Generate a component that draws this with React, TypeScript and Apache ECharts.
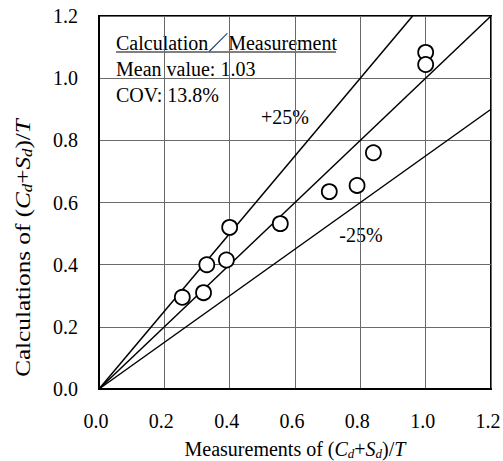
import React, { useEffect, useRef } from "react";
import * as echarts from "echarts";

const measured = [0.255, 0.32, 0.33, 0.39, 0.4, 0.555, 0.705, 0.79, 0.84, 1.0, 1.0];
const calculated = [0.295, 0.31, 0.4, 0.415, 0.52, 0.532, 0.635, 0.655, 0.76, 1.083, 1.044];
const equalLine = [[0, 0], [1.2, 1.2]];
const plusLine = [[0, 0], [0.96, 1.2]];
const minusLine = [[0, 0], [1.2, 0.9]];
const axisMin = 0;
const axisMax = 1.2;
const axisStep = 0.2;
const summaryTitle = "Calculation／Measurement";
const summaryMean = "Mean value: 1.03";
const summaryCov = "COV: 13.8%";
const plusLabel = "+25%";
const minusLabel = "-25%";

const FONT = "'Liberation Serif', 'Times New Roman', 'Noto Sans CJK JP', serif";

const richStyles = (size: number) => ({
  n: { fontFamily: FONT, fontSize: size, color: "#000", lineHeight: size + 2 },
  i: { fontFamily: FONT, fontSize: size, fontStyle: "italic", color: "#000", lineHeight: size + 2 },
  s: {
    fontFamily: FONT,
    fontSize: Math.round(size * 0.65),
    fontStyle: "italic",
    color: "#000",
    lineHeight: 8,
    verticalAlign: "bottom",
  },
});

export default function App() {
  const ref = useRef<HTMLDivElement>(null);
  useEffect(() => {
    if (!ref.current) return;
    const chart = echarts.init(ref.current, undefined, { renderer: "svg" });
    const points = measured.map((m, k) => [m, calculated[k]]);
    const lineSeries = (data: number[][]) => ({
      type: "line",
      data,
      symbol: "none",
      silent: true,
      lineStyle: { color: "#000", width: 1.5 },
      z: 2,
    });
    const axisCommon = {
      type: "value",
      min: axisMin,
      max: axisMax,
      interval: axisStep,
      axisLine: { show: true, lineStyle: { color: "#000", width: 2 } },
      axisTick: { show: false },
      splitLine: { show: true, lineStyle: { color: "#6a6a6a", width: 1 } },
    };
    chart.setOption({
      animation: false,
      grid: {
        left: 99,
        right: 12,
        top: 16,
        bottom: 72,
        containLabel: false,
        outerBoundsMode: "none",
        show: true,
        borderColor: "#000",
        borderWidth: 2,
        backgroundColor: "transparent",
      },
      xAxis: {
        ...axisCommon,
        axisLabel: {
          fontFamily: FONT,
          fontSize: 20,
          color: "#000",
          margin: 22,
          padding: [0, 6, 0, 0],
          formatter: (v: number) => v.toFixed(1),
        },
        name: "{n|Measurements of (}{i|C}{s|d}{n|+}{i|S}{s|d}{n|)/}{i|T}",
        nameLocation: "middle",
        nameGap: 49,
        nameTextStyle: { rich: richStyles(20) },
      },
      yAxis: {
        ...axisCommon,
        axisLabel: {
          fontFamily: FONT,
          fontSize: 20,
          color: "#000",
          margin: 21,
          formatter: (v: number) => v.toFixed(1),
        },
      },
      graphic: [
        {
          type: "text",
          x: 23,
          y: 248,
          rotation: Math.PI / 2,
          scaleX: 1.2,
          style: {
            text: "{n|Calculations of (}{i|C}{s|d}{n|+}{i|S}{s|d}{n|)/}{i|T}",
            rich: richStyles(21),
            align: "center",
            verticalAlign: "middle",
          },
        },
        {
          type: "text",
          x: 116,
          y: 43,
          style: { text: summaryTitle, font: `20px ${FONT}`, fill: "#000", verticalAlign: "middle" },
        },
        {
          type: "line",
          shape: { x1: 116, y1: 52, x2: 336, y2: 52 },
          style: { stroke: "#000", lineWidth: 1 },
        },
        {
          type: "text",
          x: 116,
          y: 69,
          style: { text: summaryMean, font: `20px ${FONT}`, fill: "#000", verticalAlign: "middle" },
        },
        {
          type: "text",
          x: 116,
          y: 95,
          style: { text: summaryCov, font: `20px ${FONT}`, fill: "#000", verticalAlign: "middle" },
        },
        {
          type: "text",
          x: 285,
          y: 117,
          style: { text: plusLabel, font: `20px ${FONT}`, fill: "#000", align: "center", verticalAlign: "middle" },
        },
        {
          type: "text",
          x: 361,
          y: 235,
          style: { text: minusLabel, font: `20px ${FONT}`, fill: "#000", align: "center", verticalAlign: "middle" },
        },
      ],
      series: [
        lineSeries(equalLine),
        lineSeries(plusLine),
        lineSeries(minusLine),
        {
          type: "scatter",
          data: points,
          symbol: "circle",
          symbolSize: 15,
          itemStyle: { color: "#fff", borderColor: "#000", borderWidth: 1.8, opacity: 1 },
          z: 5,
        },
      ],
    });
    return () => chart.dispose();
  }, []);
  return <div ref={ref} style={{ width: 503, height: 461, position: "absolute", left: 0, top: 0 }} />;
}
